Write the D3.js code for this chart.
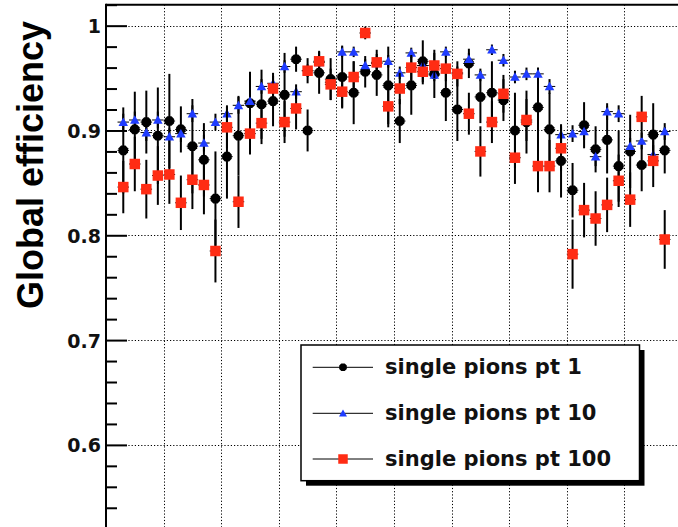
<!DOCTYPE html>
<html>
<head>
<meta charset="utf-8">
<script src="https://cdn.jsdelivr.net/npm/d3@7"></script>
<style>
  html, body { margin: 0; padding: 0; background: #fff; }
  svg { display: block; }
</style>
</head>
<body>
<svg id="chart" width="678" height="527"></svg>
<script>
// Eta bin centres (bins of 0.1, |eta| < 2.4 populated)
const etaBins = [
  -2.35, -2.25, -2.15, -2.05, -1.95, -1.85, -1.75, -1.65, -1.55, -1.45,
  -1.35, -1.25, -1.15, -1.05, -0.95, -0.85, -0.75, -0.65, -0.55, -0.45,
  -0.35, -0.25, -0.15, -0.05, 0.05, 0.15, 0.25, 0.35, 0.45, 0.55,
  0.65, 0.75, 0.85, 0.95, 1.05, 1.15, 1.25, 1.35, 1.45, 1.55,
  1.65, 1.75, 1.85, 1.95, 2.05, 2.15, 2.25, 2.35
];

// Global efficiency, single pions pt 1
const effPt1 = [
  0.881, 0.901, 0.908, 0.895, 0.909, 0.901, 0.885, 0.872, 0.835, 0.875,
  0.895, 0.926, 0.925, 0.928, 0.934, 0.968, 0.900, 0.955, 0.949, 0.951,
  0.936, 0.956, 0.953, 0.943, 0.909, 0.943, 0.966, 0.954, 0.936, 0.920,
  0.964, 0.932, 0.936, 0.929, 0.900, 0.908, 0.922, 0.901, 0.871, 0.843,
  0.905, 0.882, 0.891, 0.866, 0.880, 0.867, 0.896, 0.881
];
const errPt1 = [
  0.041, 0.036, 0.030, 0.046, 0.045, 0.022, 0.045, 0.035, 0.045, 0.040,
  0.038, 0.030, 0.033, 0.024, 0.040, 0.012, 0.020, 0.020, 0.020, 0.030,
  0.030, 0.015, 0.020, 0.037, 0.021, 0.028, 0.020, 0.023, 0.027, 0.030,
  0.014, 0.025, 0.030, 0.020, 0.036, 0.030, 0.032, 0.035, 0.035, 0.026,
  0.022, 0.022, 0.032, 0.034, 0.035, 0.025, 0.030, 0.022
];

// Global efficiency, single pions pt 10
const effPt10 = [
  0.908, 0.910, 0.898, 0.910, 0.894, 0.897, 0.916, 0.888, 0.908, 0.916,
  0.924, 0.928, 0.942, 0.945, 0.961, 0.937, 0.957, 0.965, 0.946, 0.975,
  0.975, 0.962, 0.964, 0.966, 0.955, 0.974, 0.962, 0.953, 0.975, 0.955,
  0.968, 0.953, 0.977, 0.967, 0.951, 0.954, 0.954, 0.942, 0.896, 0.897,
  0.899, 0.875, 0.918, 0.916, 0.885, 0.890, 0.877, 0.899
];
const errPt10 = [
  0.008, 0.008, 0.008, 0.008, 0.008, 0.008, 0.008, 0.008, 0.008, 0.008,
  0.008, 0.007, 0.007, 0.007, 0.006, 0.007, 0.006, 0.006, 0.006, 0.005,
  0.005, 0.006, 0.006, 0.006, 0.006, 0.005, 0.006, 0.006, 0.005, 0.006,
  0.006, 0.006, 0.005, 0.006, 0.006, 0.006, 0.006, 0.007, 0.008, 0.008,
  0.008, 0.009, 0.008, 0.008, 0.008, 0.008, 0.009, 0.008
];

// Global efficiency, single pions pt 100
const effPt100 = [
  0.846, 0.868, 0.844, 0.857, 0.858, 0.831, 0.853, 0.848, 0.785, 0.903,
  0.832, 0.897, 0.907, 0.940, 0.908, 0.921, 0.957, 0.966, 0.944, 0.937,
  0.951, 0.993, 0.965, 0.923, 0.940, 0.960, 0.956, 0.962, 0.959, 0.954,
  0.916, 0.880, 0.908, 0.935, 0.874, 0.910, 0.866, 0.866, 0.883, 0.782,
  0.824, 0.816, 0.829, 0.852, 0.834, 0.913, 0.871, 0.796
];
const errPt100 = [
  0.025, 0.026, 0.028, 0.028, 0.028, 0.026, 0.028, 0.028, 0.030, 0.020,
  0.025, 0.020, 0.020, 0.015, 0.020, 0.020, 0.012, 0.010, 0.015, 0.015,
  0.015, 0.006, 0.012, 0.020, 0.015, 0.012, 0.012, 0.012, 0.012, 0.012,
  0.020, 0.024, 0.020, 0.018, 0.025, 0.020, 0.025, 0.025, 0.022, 0.033,
  0.026, 0.026, 0.026, 0.025, 0.026, 0.020, 0.025, 0.028
];

const seriesNames = ["single pions pt 1", "single pions pt 10", "single pions pt 100"];
const yMajorTicks = [0.6, 0.7, 0.8, 0.9, 1.0];
const yTickLabels = ["0.6", "0.7", "0.8", "0.9", "1"];
const etaGrid = [-2, -1.5, -1, -0.5, 0, 0.5, 1, 1.5, 2];
const yTitle = "Global efficiency";

const svg = d3.select("#chart");
const frame = { left: 106, right: 682, top: 4.7, bottom: 549.7 };

const x = d3.scaleLinear().domain([-2.5, 2.5]).range([frame.left, frame.right]);
const y = d3.scaleLinear().domain([0.5, 1.02]).range([frame.bottom, frame.top]);
const binHalf = (x(0.1) - x(0)) / 2;

// dotted grid
const grid = svg.append("g").attr("stroke", "#000").attr("stroke-width", 1)
  .attr("stroke-dasharray", "1.2,2");
grid.selectAll("line.h").data(yMajorTicks).join("line")
  .attr("class", "h")
  .attr("x1", frame.left).attr("x2", frame.right)
  .attr("y1", d => Math.round(y(d)) + 0.5).attr("y2", d => Math.round(y(d)) + 0.5);
grid.selectAll("line.v").data(etaGrid).join("line")
  .attr("class", "v")
  .attr("x1", d => Math.round(x(d)) + 0.5).attr("x2", d => Math.round(x(d)) + 0.5)
  .attr("y1", frame.top).attr("y2", frame.bottom);

// frame: top edge
svg.append("line").attr("x1", frame.left).attr("x2", frame.right)
  .attr("y1", frame.top).attr("y2", frame.top)
  .attr("stroke", "#000").attr("stroke-width", 2);

// y axis: minor ticks, major ticks, labels
const minorTicks = d3.range(0.52, 1.0201, 0.02).filter(v => !yMajorTicks.some(m => Math.abs(m - v) < 1e-6));
const axisMinor = svg.append("g").attr("transform", `translate(${frame.left},0)`)
  .call(d3.axisRight(y).tickValues(minorTicks).tickSize(11).tickFormat(""));
const axisMajor = svg.append("g").attr("transform", `translate(${frame.left},0)`)
  .call(d3.axisRight(y).tickValues(yMajorTicks).tickSize(21).tickFormat(""));
[axisMinor, axisMajor].forEach(g => {
  g.selectAll(".tick line").attr("stroke", "#000").attr("stroke-width", 2);
  g.select(".domain").remove();
});
svg.append("line").attr("x1", frame.left).attr("x2", frame.left)
  .attr("y1", frame.top - 1).attr("y2", frame.bottom)
  .attr("stroke", "#000").attr("stroke-width", 2);

const axisLabels = svg.append("g").attr("transform", `translate(${frame.left},0)`)
  .call(d3.axisLeft(y).tickValues(yMajorTicks).tickSize(0).tickPadding(5)
    .tickFormat((d, i) => yTickLabels[i]));
axisLabels.select(".domain").remove();
axisLabels.selectAll(".tick text")
  .attr("font-family", "'DejaVu Sans', sans-serif")
  .attr("font-weight", "bold").attr("font-size", 19)
  .attr("fill", "#111").attr("dy", "0.37em");

// y title
svg.append("text")
  .attr("transform", "translate(43,165) rotate(-90)")
  .attr("text-anchor", "middle")
  .attr("font-family", "'Liberation Sans', Arial, sans-serif")
  .attr("font-weight", "bold").attr("font-size", 36)
  .attr("fill", "#000")
  .text(yTitle);

// marker shapes
function octagon(r) {
  const c = r * 0.45;
  return `M${-c},${-r}L${c},${-r}L${r},${-c}L${r},${c}L${c},${r}L${-c},${r}L${-r},${c}L${-r},${-c}Z`;
}
function triangle(w, h) {
  return `M0,${-h * 0.55}L${w / 2},${h * 0.45}L${-w / 2},${h * 0.45}Z`;
}
function square(s) {
  return `M${-s / 2},${-s / 2}h${s}v${s}h${-s}Z`;
}

const series = [
  { name: seriesNames[0], eff: effPt1, err: errPt1, color: "#000000", shape: octagon(4.8), legendShape: octagon(3.8) },
  { name: seriesNames[1], eff: effPt10, err: errPt10, color: "#1f3cff", shape: triangle(9.5, 8.5), legendShape: triangle(8, 7) },
  { name: seriesNames[2], eff: effPt100, err: errPt100, color: "#ff2c14", shape: square(10.5), legendShape: square(9.5) }
];

series.forEach(s => {
  const pts = etaBins.map((eta, i) => ({ eta, v: s.eff[i], e: s.err[i] }));
  const g = svg.append("g");
  g.selectAll("line.ex").data(pts).join("line")
    .attr("x1", d => x(d.eta) - binHalf).attr("x2", d => x(d.eta) + binHalf)
    .attr("y1", d => y(d.v)).attr("y2", d => y(d.v))
    .attr("stroke", "#000").attr("stroke-width", 1);
  g.selectAll("line.ey").data(pts).join("line")
    .attr("x1", d => x(d.eta)).attr("x2", d => x(d.eta))
    .attr("y1", d => y(d.v - d.e)).attr("y2", d => y(d.v + d.e))
    .attr("stroke", "#000").attr("stroke-width", 2);
  g.selectAll("path").data(pts).join("path")
    .attr("d", s.shape)
    .attr("transform", d => `translate(${x(d.eta)},${y(d.v)})`)
    .attr("fill", s.color);
});

// legend with drop shadow
const leg = { x: 301, y: 345, w: 338.5, h: 135.7 };
svg.append("rect").attr("x", leg.x + 5).attr("y", leg.y + 5)
  .attr("width", leg.w).attr("height", leg.h).attr("fill", "#000");
svg.append("rect").attr("x", leg.x).attr("y", leg.y)
  .attr("width", leg.w).attr("height", leg.h)
  .attr("fill", "#fff").attr("stroke", "#000").attr("stroke-width", 1.5);

const rowY = [367.3, 413.3, 459];
series.forEach((s, i) => {
  const gy = rowY[i];
  svg.append("line").attr("x1", 312.7).attr("x2", 373)
    .attr("y1", gy).attr("y2", gy).attr("stroke", "#000").attr("stroke-width", 1);
  svg.append("path").attr("d", s.legendShape)
    .attr("transform", `translate(343,${gy})`).attr("fill", s.color);
  svg.append("text").attr("x", 385).attr("y", gy + 6.5)
    .attr("font-family", "'DejaVu Sans', sans-serif")
    .attr("font-weight", "bold").attr("font-size", 21)
    .attr("fill", "#111")
    .text(s.name);
});
</script>
</body>
</html>
